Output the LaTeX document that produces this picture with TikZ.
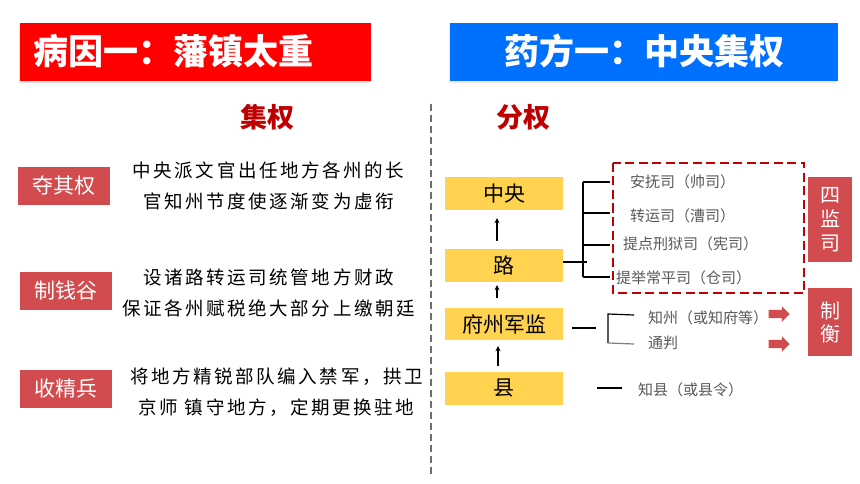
\documentclass[tikz,border=0pt]{standalone}
\usepackage{fontspec}
\newfontfamily\cjk{Noto Sans CJK SC}
\newfontfamily\cjksp[LetterSpace=14]{Noto Sans CJK SC}
\usetikzlibrary{shapes.arrows,arrows.meta,shadows}
\definecolor{bannerred}{RGB}{255,0,0}
\definecolor{bannerblue}{RGB}{0,112,255}
\definecolor{tagred}{RGB}{209,75,79}
\definecolor{darkred}{RGB}{192,0,0}
\definecolor{boxyellow}{RGB}{255,211,79}
\definecolor{labelgray}{RGB}{89,89,89}
\definecolor{divgray}{RGB}{110,110,110}
\tikzset{
  banner/.style={minimum height=58pt, inner sep=0pt,
    drop shadow={opacity=0.2, shadow xshift=-1pt, shadow yshift=-2pt, fill=red!60}},
  bannertext/.style={text=white, font=\cjk\bfseries\fontsize{35}{40}\selectfont, inner sep=0pt},
  headtext/.style={text=darkred, font=\cjk\bfseries\fontsize{27}{30}\selectfont, inner sep=0pt},
  tagbox/.style={fill=tagred, text=white, minimum width=92pt, minimum height=38pt, inner sep=0pt,
    font=\cjk\fontsize{21}{24}\selectfont},
  bodytext/.style={align=center, inner sep=0pt, font=\cjksp\fontsize{18.5}{31}\selectfont},
  levelbox/.style={fill=boxyellow, minimum width=118pt, minimum height=33pt, inner sep=0pt,
    font=\cjk\fontsize{21}{24}\selectfont},
  grayitem/.style={anchor=west, inner sep=0pt, text=labelgray, font=\cjk\fontsize{15}{17}\selectfont},
  sidebox/.style={fill=tagred, text=white, minimum width=44pt, inner sep=0pt, align=center},
  uparrow/.style={-{Stealth[length=5pt,width=5pt]}, line width=1.3pt},
  bracket/.style={line width=1.2pt},
  blockarrow/.style={single arrow, fill=tagred, draw=none, minimum height=21pt,
    inner sep=4pt, single arrow head extend=3.5pt, single arrow head indent=0pt}
}
\begin{document}
\begin{tikzpicture}[x=1pt,y=-1pt]
\useasboundingbox (0,0) rectangle (860,484);
\fill[white] (0,0) rectangle (860,484);

% banners
\node[banner, fill=bannerred, minimum width=351pt] (bl) at (195.5,52) {};
\node[bannertext, anchor=west] (blt) at (33,51) {病因一：藩镇太重};
\node[banner, fill=bannerblue, minimum width=388pt] (br) at (644,52) {};
\node[bannertext] (brt) at (644,51) {药方一：中央集权};

% headings
\node[headtext] (jq) at (267.5,117) {集权};
\node[headtext] (fq) at (523,117) {分权};

% divider
\draw[divgray, line width=2.5pt, dash pattern=on 7pt off 4pt] (431,104) -- (431,474);

% left tags and texts
\node[tagbox] (tag1) at (64,186) {夺其权};
\node[bodytext] (txt1) at (268.5,185.5) {中央派文官出任地方各州的长\\官知州节度使逐渐变为虚衔};
\node[tagbox] (tag2) at (66,291) {制钱谷};
\node[bodytext] (txt2) at (268.5,292.5) {设诸路转运司统管地方财政\\保证各州赋税绝大部分上缴朝廷};
\node[tagbox] (tag3) at (66,389) {收精兵};
\node[bodytext] (txt3) at (276.5,392.5) {将地方精锐部队编入禁军，拱卫\\京师\ 镇守地方，定期更换驻地};

% levels
\node[levelbox] (zy) at (504,193.5) {中央};
\node[levelbox] (lu) at (504,265.5) {路};
\node[levelbox, minimum height=32pt] (fz) at (504,324) {府州军监};
\node[levelbox] (xian) at (504,388.5) {县};

\draw[uparrow, shorten <=8pt, shorten >=8pt] ([xshift=-7pt]lu.north) -- ([xshift=-7pt]zy.south);
\draw[uparrow, shorten <=10pt, shorten >=3pt] ([xshift=-7pt]fz.north) -- ([xshift=-7pt]lu.south);
\draw[uparrow, shorten <=6pt, shorten >=6pt] ([xshift=-6pt]xian.north) -- ([xshift=-6pt]fz.south);

% four jiansi
\coordinate (lue) at (587,262);
\coordinate (bt) at (583,182);
\coordinate (bb) at (583,277);
\coordinate (b1) at (610,182);
\coordinate (b2) at (610,213);
\coordinate (b3) at (610,245);
\coordinate (b4) at (610,277);
\draw[bracket] (lu.east |- lue) -- (lue);
\draw[bracket] (bt) -- (bb);
\draw[bracket] (bt) -- (b1);
\draw[bracket] (bt |- b2) -- (b2);
\draw[bracket] (bt |- b3) -- (b3);
\draw[bracket] (bb) -- (b4);

\draw[darkred, line width=2.5pt, dash pattern=on 9pt off 4.5pt] (613,163) rectangle (804,293);
\node[grayitem] (s1) at (630,182) {安抚司（帅司）};
\node[grayitem] (s2) at (630,216) {转运司（漕司）};
\node[grayitem] (s3) at (623,244) {提点刑狱司（宪司）};
\node[grayitem] (s4) at (616,278) {提举常平司（仓司）};

\node[sidebox, minimum height=85pt, font=\cjk\fontsize{20}{24}\selectfont] (sjs) at (830,219.5) {四\\监\\司};
\node[sidebox, minimum height=68pt, font=\cjk\fontsize{20}{23}\selectfont] (zh) at (830,322) {制\\衡};

% fu zhou bracket
\coordinate (f0) at (572,328);
\coordinate (f1) at (596,328);
\coordinate (ft) at (608,314);
\coordinate (fb) at (608,343);
\coordinate (fe1) at (634,315);
\coordinate (fe2) at (634,344);
\draw[bracket] (f0) -- (f1);
\draw[bracket] (fe1) -- (ft) -- (fb);
\draw[bracket, gray] (fb) -- (fe2);
\node[grayitem] (zz) at (648,318) {知州（或知府等）};
\node[grayitem] (tp) at (648,343) {通判};
\node[blockarrow] (ar1) at (777,314) {};
\node[blockarrow] (ar2) at (777,344) {};

% xian
\coordinate (x0) at (597,388);
\coordinate (x1) at (622,388);
\draw[bracket] (x0) -- (x1);
\node[grayitem] (zx) at (638,390) {知县（或县令）};
\end{tikzpicture}
\end{document}
